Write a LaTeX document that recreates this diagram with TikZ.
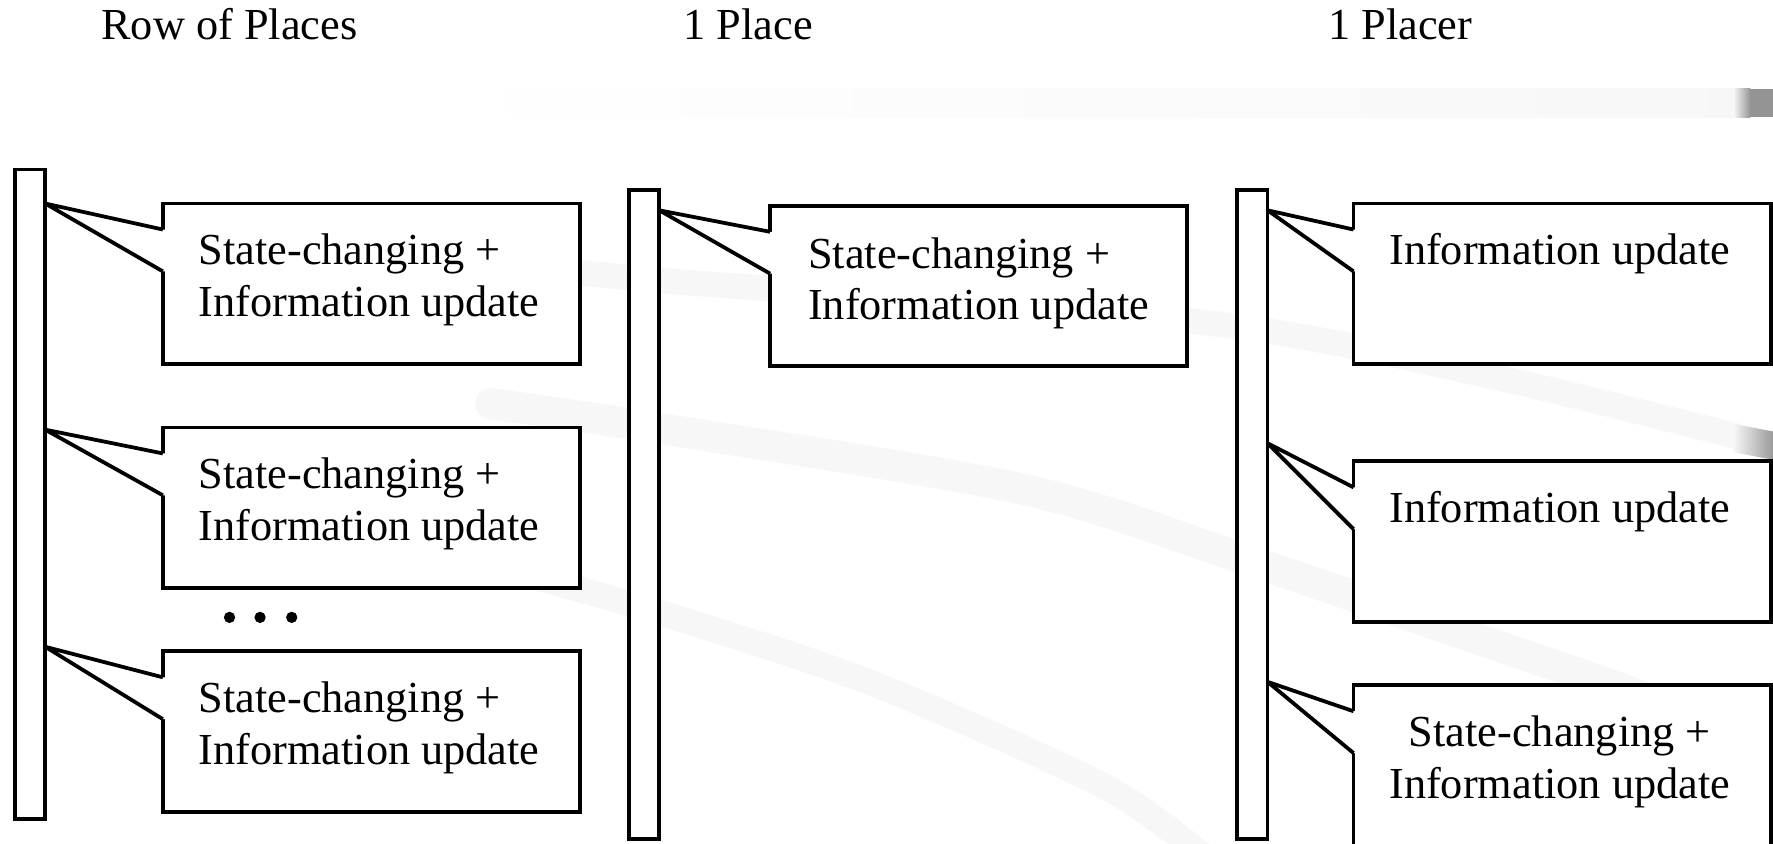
\documentclass[tikz,border=0pt]{standalone}
\usepackage{fontspec}
\setmainfont{Liberation Serif}
\usetikzlibrary{positioning,calc}

\begin{document}
\begin{tikzpicture}[line width=1.9pt,
        placebar/.style={draw, fill=white, rectangle, minimum width=0.54cm, minimum height=11.48cm, anchor=north west, inner sep=0pt, outer sep=0pt},
        callbox/.style={draw, fill=white, rectangle, minimum width=7.38cm, minimum height=2.84cm, anchor=north west, inner sep=0pt, outer sep=0pt},
        calltext/.style={anchor=base west, inner sep=0pt, align=left, font=\fontsize{22.3}{26}\selectfont},
        coltitle/.style={anchor=base west, inner sep=0pt, font=\fontsize{22.3}{26}\selectfont},
        swoosh/.style={draw=black!3, line width=0.45cm, line cap=round}]
        \useasboundingbox (0,0) rectangle (31.36,14.92);
        \fill[white] (0,0) rectangle (31.36,14.92);

        % Faint backdrop bands
        \shade[left color=white, right color=black!3] (7.5,12.85) rectangle (30.66,13.35);
        \shade[left color=black!3, right color=black!42] (30.66,12.85) rectangle (30.96,13.35);
        \fill[black!42] (30.96,12.85) rectangle (31.4,13.35);
        \draw[swoosh] plot[smooth] coordinates {(8.8,10.28) (11.68,9.96) (21.26,9.22) (26.32,8.28) (31.4,7.03)};
        \shade[left color=black!3, right color=black!42] (30.66,7.42) -- (31.4,7.28) -- (31.4,6.78) -- (30.66,6.92) -- cycle;
        \draw[swoosh, line width=0.55cm] plot[smooth] coordinates {(8.68,7.78) (11.68,7.34) (18.12,6.26) (22.22,4.96) (27.7,3.08) (29.0,2.62)};
        \draw[swoosh] plot[smooth] coordinates {(8.92,4.86) (11.68,4.08) (15.36,2.86) (19.48,1.04) (21.26,-0.2)};

        % Row of places
        \node[coltitle] (t1) at (1.76,14.22) {Row of Places};
        \node[placebar] (p1) at (0.26,11.92) {};
        \node[callbox] (b11) at (2.88,11.32) {};
        \node[callbox] (b12) at (2.88,7.36) {};
        \node[callbox] (b13) at (2.88,3.40) {};

        % One place
        \node[coltitle] (t2) at (12.06,14.22) {1 Place};
        \node[placebar] (p2) at (11.12,11.56) {};
        \node[callbox] (b21) at (13.62,11.28) {};

        % One placer
        \node[coltitle] (t3) at (23.46,14.22) {1 Placer};
        \node[placebar] (p3) at (21.88,11.56) {};
        \node[callbox] (b31) at (23.94,11.32) {};
        \node[callbox] (b32) at (23.94,6.76) {};
        \node[callbox] (b33) at (23.94,2.80) {};

        % Pointer tips on the bars
        \coordinate (tip11) at ([yshift=-0.60cm]p1.north east);
        \coordinate (tip12) at ([yshift=-4.60cm]p1.north east);
        \coordinate (tip13) at ([yshift=-8.44cm]p1.north east);
        \coordinate (tip21) at ([yshift=-0.36cm]p2.north east);
        \coordinate (tip31) at ([yshift=-0.36cm]p3.north east);
        \coordinate (tip32) at ([yshift=-4.48cm]p3.north east);
        \coordinate (tip33) at ([yshift=-8.70cm]p3.north east);

        % Callout pointers
        \foreach \b in {11,12,13,21,31,32,33} {
            \fill[white] ([yshift=-0.46cm]b\b.north west) -- (tip\b) -- ([yshift=-1.20cm]b\b.north west)
                -- ([shift={(0.1,-1.20)}]b\b.north west) -- ([shift={(0.1,-0.46)}]b\b.north west) -- cycle;
            \draw[line join=round] ([yshift=-0.46cm]b\b.north west) -- (tip\b) -- ([yshift=-1.20cm]b\b.north west);
        }

        % Callout texts (two-line nodes sit on their last baseline)
        \node[calltext] (l11) at ([shift={(0.60,-2.00)}]b11.north west) {State-changing +\\Information update};
        \node[calltext] (l12) at ([shift={(0.60,-2.00)}]b12.north west) {State-changing +\\Information update};
        \node[calltext] (l13) at ([shift={(0.60,-2.00)}]b13.north west) {State-changing +\\Information update};
        \node[calltext] (l21) at ([shift={(0.64,-2.02)}]b21.north west) {State-changing +\\Information update};
        \node[calltext] (l31) at ([shift={(0.60,-1.08)}]b31.north west) {Information update};
        \node[calltext] (l32) at ([shift={(0.60,-1.08)}]b32.north west) {Information update};
        \node[calltext, align=center] (l33) at ([shift={(0.60,-2.00)}]b33.north west) {State-changing +\\Information update};

        % Omitted places
        \foreach \x in {4.06,4.60,5.16}
            \fill (\x,4.0) circle (0.1);
    \end{tikzpicture}
\end{document}
